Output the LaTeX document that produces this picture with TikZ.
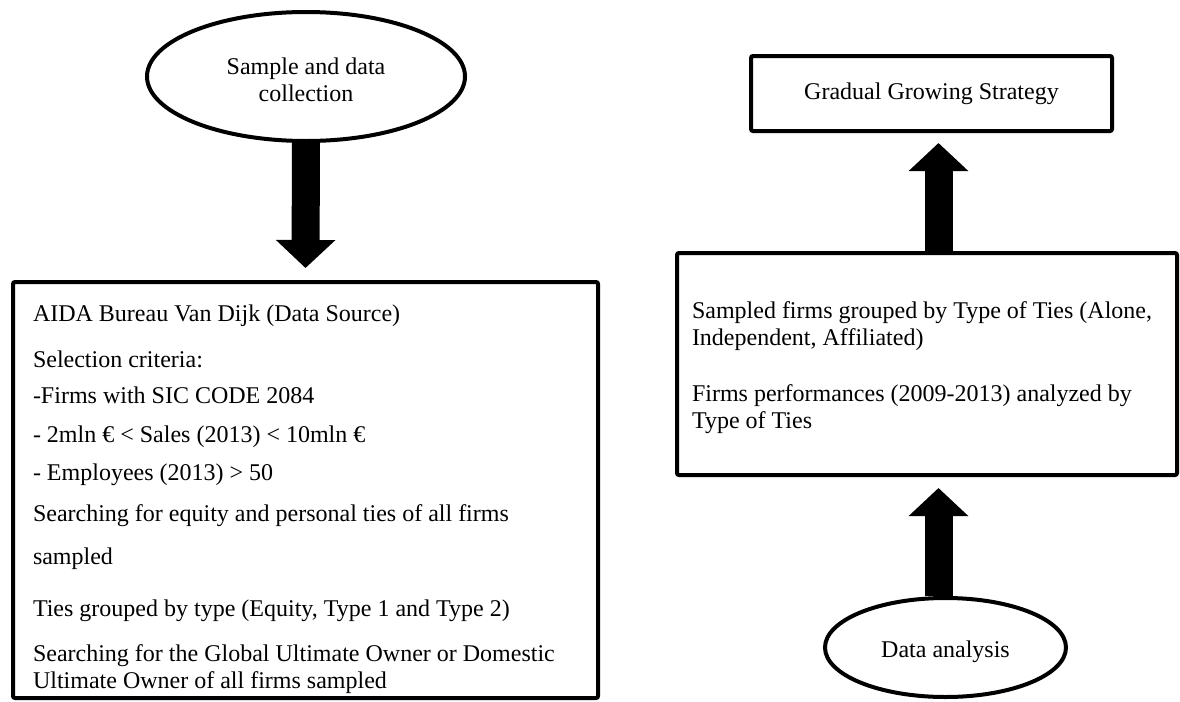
\documentclass[tikz,border=0pt]{standalone}
\usepackage{fontspec}
\setmainfont{Liberation Serif}
\usetikzlibrary{shapes.geometric,arrows.meta}

\begin{document}
\begin{tikzpicture}[x=0.5pt,y=-0.5pt,
    bigarrow/.style={line width=14pt,-{Triangle[width=29pt,length=14pt]}},
    boxed/.style={draw,line width=2pt,inner sep=0pt,rounded corners=1pt},
    oval/.style={draw,ellipse,line width=2pt,inner sep=0pt,align=center}]
    \fontsize{12}{13.5}\selectfont
    \useasboundingbox (0,0) rectangle (1180,702);
    % left column
    \node[oval,minimum width=159pt,minimum height=64.5pt] (sample) at (306,76.5)
      {\rule{0pt}{11.5pt}Sample and data\\collection};
    \node[boxed,minimum width=292.5pt,minimum height=208pt,
      text width=272.5pt,inner xsep=10pt,align=flush left] (aida) at (305.5,490)
      {\rule{0pt}{18pt}AIDA Bureau Van Dijk (Data Source)\\[9.5pt]
       Selection criteria:\\[4.5pt]
       -Firms with SIC CODE 2084\\[6pt]
       - 2mln € < Sales (2013) < 10mln €\\[5.5pt]
       - Employees (2013) > 50\\[7pt]
       Searching for equity and personal ties of all firms\\[8pt]
       sampled\\[12.5pt]
       Ties grouped by type (Equity, Type 1 and Type 2)\\[9pt]
       Searching for the Global Ultimate Owner or Domestic\\
       Ultimate Owner of all firms sampled};
    % right column
    \node[boxed,minimum width=180.5pt,minimum height=37.5pt] (gradual) at (931.5,93.5)
      {Gradual Growing Strategy};
    \node[boxed,minimum width=250pt,minimum height=111pt,
      text width=235pt,inner xsep=7.5pt,align=flush left] (types) at (927,364)
      {\rule{0pt}{12.5pt}Sampled firms grouped by Type of Ties (Alone,\\
       Independent, Affiliated)\\[14.5pt]
       Firms performances (2009-2013) analyzed by\\
       Type of Ties};
    \node[oval,minimum width=120.5pt,minimum height=49.5pt] (analysis) at (945.5,647.5)
      {\rule{0pt}{13pt}Data analysis};
    % fat arrows
    \draw[bigarrow] (sample.south) -- ([yshift=6pt]aida.north);
    \draw[bigarrow] ([xshift=5.75pt]types.north) -- ([xshift=3.5pt,yshift=-5pt]gradual.south);
    \draw[bigarrow] ([xshift=-3.5pt]analysis.north) -- ([xshift=5.75pt,yshift=-5.5pt]types.south);
\end{tikzpicture}
\end{document}
